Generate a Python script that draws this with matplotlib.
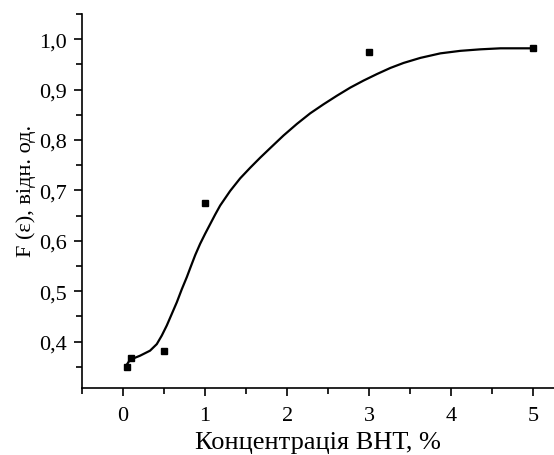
import matplotlib
matplotlib.use("Agg")
import matplotlib.pyplot as plt
from matplotlib.ticker import MultipleLocator, FuncFormatter

plt.rcParams['font.family'] = ['Liberation Serif', 'DejaVu Serif']

conc = [0.05, 0.1, 0.5, 1.0, 3.0, 5.0]
f_eps = [0.350, 0.367, 0.382, 0.675, 0.975, 0.982]

curve_x = [0.045, 0.085, 0.207, 0.329, 0.411, 0.472, 0.533, 0.594, 0.655, 0.716,
           0.777, 0.821, 0.880, 0.939, 1.000, 1.061, 1.122, 1.183, 1.305, 1.427,
           1.549, 1.671, 1.793, 1.955, 2.118, 2.280, 2.443, 2.606, 2.768, 2.930,
           3.094, 3.256, 3.418, 3.622, 3.866, 4.110, 4.354, 4.598, 4.963]
curve_y = [0.354, 0.364, 0.372, 0.382, 0.395, 0.412, 0.432, 0.455, 0.478, 0.504,
           0.528, 0.547, 0.572, 0.594, 0.614, 0.633, 0.652, 0.670, 0.699, 0.724,
           0.745, 0.765, 0.784, 0.809, 0.832, 0.853, 0.871, 0.888, 0.904, 0.918,
           0.931, 0.943, 0.953, 0.963, 0.972, 0.977, 0.980, 0.982, 0.982]

fig = plt.figure(figsize=(5.54, 4.56), dpi=100)
ax = fig.add_axes([0.148, 0.147, 0.852, 0.820])

ax.plot(curve_x, curve_y, color='black', lw=1.6, solid_joinstyle='round')
ax.plot(conc, f_eps, 's', color='black', ms=4)

ax.set_xlim(-0.5, 5.25)
ax.set_ylim(0.308, 1.05)
ax.xaxis.set_major_locator(MultipleLocator(1))
ax.xaxis.set_minor_locator(MultipleLocator(0.5))
ax.yaxis.set_major_locator(MultipleLocator(0.1))
ax.yaxis.set_minor_locator(MultipleLocator(0.05))
ax.yaxis.set_major_formatter(FuncFormatter(lambda v, p: f"{v:.1f}".replace('.', ',')))
ax.xaxis.set_major_formatter(FuncFormatter(lambda v, p: f"{v:.0f}"))

for s in ['top', 'right']:
    ax.spines[s].set_visible(False)
for s in ['left', 'bottom']:
    ax.spines[s].set_linewidth(1.2)

ax.tick_params(which='major', direction='out', length=6, width=1.2, labelsize=16, pad=5)
ax.tick_params(axis='x', which='major', pad=7)
ax.tick_params(which='minor', direction='out', length=4, width=1.2)

ax.set_xlabel('Концентрація ВНТ, %', fontsize=19, labelpad=4)
ax.set_ylabel('F (ε), відн. од.', fontsize=16)
ax.yaxis.set_label_coords(-0.097, 0.53)

fig.savefig('out.png', dpi=100)
